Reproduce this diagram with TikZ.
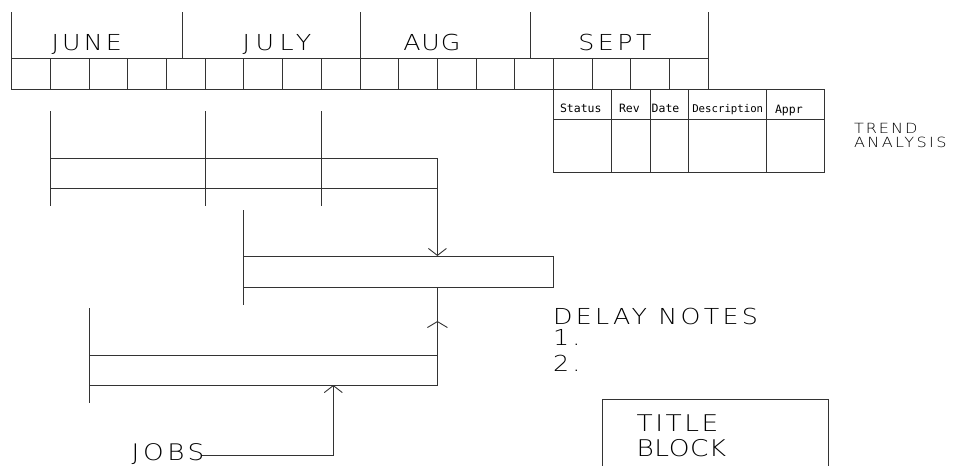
\documentclass[tikz,border=0pt]{standalone}
\usepackage{fontspec}
\usetikzlibrary{arrows.meta,decorations.markings}
\newfontfamily\cad[FakeStretch=1.15]{DejaVuSans-ExtraLight.ttf}
\newfontfamily\cadmono{DejaVu Sans Mono}
\newcommand\cadfont[2]{\cad\fontsize{#1}{#1}\selectfont\addfontfeatures{LetterSpace=#2}}
\newcommand\hdrfont[1]{\cadmono\fontsize{#1}{#1}\selectfont}
\tikzset{
  ln/.style={draw=black!80, line width=0.9pt},
  bar/.style={ln, rectangle, inner sep=0pt, outer sep=0pt, anchor=north west},
  txt/.style={inner sep=0pt, outer sep=0pt, anchor=base west, text=black},
  barb/.style={-{Straight Barb[length=7pt,width=18pt,line width=0.9pt]}},
  midup/.style={postaction={decorate}, decoration={markings,
      mark=at position 0.653 with {\arrow{Straight Barb[length=6pt,width=20pt,line width=0.9pt]}}}}
}
\begin{document}
\begin{tikzpicture}[x=1pt,y=-1pt]
\useasboundingbox (0,0) rectangle (962,466);
\fill[white] (0,0) rectangle (962,466);

% ---------- time scale ----------
\draw[ln] (11.7,58) rectangle (708.3,89);
\foreach \k in {1,...,17} \draw[ln] ({11.7+38.7*\k},58) -- ({11.7+38.7*\k},89);
\foreach \x in {11.7,182,360,530,708.3} \draw[ln] (\x,12) -- (\x,58);
\node[txt] (june) at (51.7,50) {\cadfont{22}{14}JUNE};
\node[txt] (july) at (242.7,50) {\cadfont{22}{25}JULY};
\node[txt] (aug)  at (403.3,50) {\cadfont{22}{4}AUG};
\node[txt] (sept) at (578.3,50) {\cadfont{22}{16}SEPT};

% ---------- trend table ----------
\node[bar, minimum width=270.8pt, minimum height=83.3pt] (tbl) at (553.5,89) {};
\draw[ln] (553.5,119.3) -- (824.3,119.3);
\foreach \x in {611,650.3,688.7,766} \draw[ln] (\x,89) -- (\x,172.3);
\node[txt] (hstat) at (560,112.3) {\hdrfont{11.5}Status};
\node[txt] (hrev)  at (619,112.3) {\hdrfont{11.5}Rev};
\node[txt] (hdate) at (651.7,112.3) {\hdrfont{11.5}Date};
\node[txt] (hdesc) at (692.3,112.3) {\hdrfont{10.7}Description};
\node[txt] (happr) at (775,113.3) {\hdrfont{11.5}Appr};
\node[txt] (trend) at (854,133.5) {\cadfont{14}{14}TREND};
\node[txt] (anal)  at (854,147.5) {\cadfont{14}{17}ANALYSIS};

% ---------- job bars ----------
\node[bar, minimum width=387pt, minimum height=30pt] (bar1) at (50.4,158) {};
\node[bar, minimum width=309.6pt, minimum height=31pt] (bar2) at (243.9,256) {};
\node[bar, minimum width=348.3pt, minimum height=30pt] (bar3) at (89.1,355) {};
\foreach \x in {50.4,205.2,321.3} \draw[ln] (\x,111) -- (\x,206);
\draw[ln] (243.9,210) -- (243.9,305);
\draw[ln] (89.1,308) -- (89.1,403);

\draw[ln,barb] (bar1.north east) -- (bar1.north east |- bar2.north);
\draw[ln,midup] (bar3.south east) -- (bar3.south east |- bar2.south);

% ---------- notes ----------
\node[txt] (delay) at (553,324.3) {\cadfont{22}{15}DELAY NOTES};
\node[txt] (n1) at (553,345) {\cadfont{22}{15}1.};
\node[txt] (n2) at (553,371) {\cadfont{22}{15}2.};

% ---------- jobs ----------
\node[txt] (jobs) at (131.7,460.5) {\cadfont{22.8}{16}JOBS};
\coordinate (jobsturn) at (333.3,455);
\coordinate (jobsin) at (333.3,385);
\draw[ln,barb] ([xshift=-2pt]jobs.east |- jobsturn) -- (jobsturn) -- (jobsin);

% ---------- title block ----------
\draw[ln] (602.3,468) -- (602.3,399) -- (828.3,399) -- (828.3,468);
\node[txt] (title) at (636.7,431.7) {\cadfont{23}{11}TITLE};
\node[txt] (block) at (636.7,456.7) {\cadfont{23}{2}BLOCK};
\end{tikzpicture}
\end{document}
